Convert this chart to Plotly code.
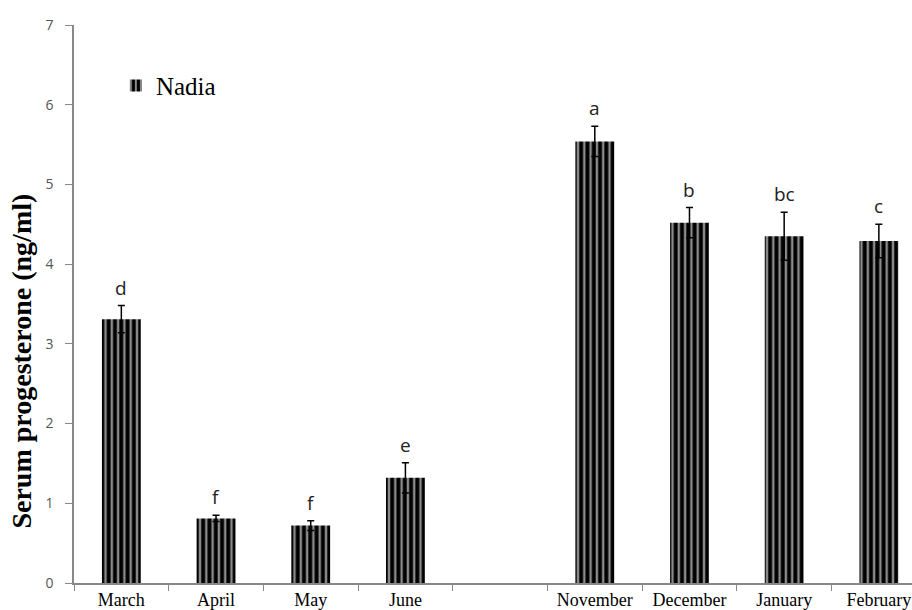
import plotly.graph_objects as go

months = ["March", "April", "May", "June", " ", "November", "December", "January", "February"]
values = [3.31, 0.81, 0.72, 1.32, None, 5.54, 4.52, 4.35, 4.29]
errors = [0.17, 0.04, 0.06, 0.19, None, 0.19, 0.19, 0.30, 0.21]
letters = ["d", "f", "f", "e", "", "a", "b", "bc", "c"]
y_ticks = [0, 1, 2, 3, 4, 5, 6, 7]
series_name = "Nadia"
y_title = "Serum progesterone (ng/ml)"

SERIF = "Liberation Serif, Times New Roman, serif"
SANS = "Open Sans, DejaVu Sans, sans-serif"

fig = go.Figure()
fig.add_trace(go.Bar(
    x=months, y=values, name=series_name, width=0.41,
    marker=dict(color="#8c8c8c", line=dict(width=0),
                pattern=dict(shape="|", fgcolor="#000000", bgcolor="#8c8c8c",
                             size=6.3, solidity=0.62, fillmode="replace")),
    error_y=dict(type="data", array=errors, visible=True, color="#000000",
                 thickness=1.5, width=3.5),
    showlegend=True,
))

for m, v, e, t in zip(months, values, errors, letters):
    if v is None or not t:
        continue
    fig.add_annotation(x=m, y=v + e, text=t, showarrow=False, yanchor="bottom",
                       yshift=3, font=dict(family=SANS, size=19, color="#222222"))

fig.add_annotation(xref="paper", yref="y", x=-0.063, y=2.78, xanchor="center", yanchor="middle",
                   text="<b>" + y_title + "</b>", textangle=-90, showarrow=False,
                   font=dict(family=SERIF, size=28, color="#000"))

fig.update_layout(
    width=912, height=610,
    margin=dict(l=74, r=0, t=25, b=27),
    paper_bgcolor="white", plot_bgcolor="white",
    showlegend=True,
    legend=dict(x=0.05, y=0.891, xanchor="left", yanchor="middle",
                bgcolor="rgba(0,0,0,0)", itemwidth=30,
                font=dict(family=SERIF, size=25, color="#000")),
    xaxis=dict(type="category", categoryorder="array", categoryarray=months,
               range=[-0.5, 8.35], showline=True, linecolor="#888888", linewidth=1.5,
               ticks="outside", tickson="boundaries", ticklen=6, tickcolor="#888888",
               ticklabelstandoff=0, automargin=False,
               tickfont=dict(family=SERIF, size=18, color="#000"),
               showgrid=False, zeroline=False),
    yaxis=dict(range=[0, 7], tickvals=y_ticks, showline=True, linecolor="#888888", linewidth=1.5,
               ticks="outside", ticklen=7, tickcolor="#888888", ticklabelstandoff=9,
               automargin=False,
               tickfont=dict(family=SANS, size=14, color="#555555"),
               showgrid=False, zeroline=False),
)

fig.write_html("out.html")
